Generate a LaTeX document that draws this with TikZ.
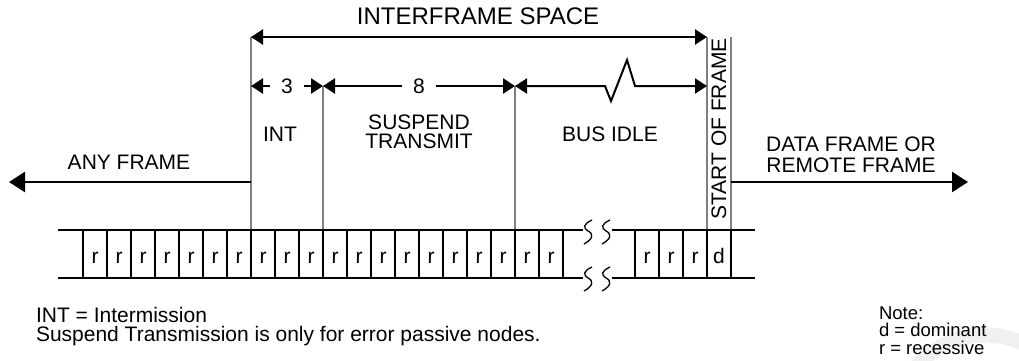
\documentclass[tikz,border=0pt]{standalone}
\usepackage{fontspec}
\setmainfont{Liberation Sans}
\usetikzlibrary{arrows.meta}

\begin{document}
\begin{tikzpicture}[x=1pt,y=-1pt,line width=2pt,
  >={Triangle[length=12pt,width=15pt]},
  lbl/.style={font=\fontsize{21}{19}\selectfont,inner sep=0pt,align=center},
  numlbl/.style={lbl,fill=white,inner xsep=11pt,inner ysep=2pt},
  note/.style={font=\fontsize{21}{19}\selectfont,inner sep=0pt,anchor=base west,align=left},
  dimline/.style={line width=2.5pt,<->},
  bigarrow/.style={line width=2.5pt,-{Triangle[length=16pt,width=20pt]}},
  guide/.style={draw=gray,line width=2pt},
  bitline/.style={line width=2pt},
  breakmark/.style={line width=1.3pt}]
\path[use as bounding box] (0,0) rectangle (1019,360);
% faint watermark ring
\begin{scope}
\clip (0,0) rectangle (1019,360);
\draw[gray!12,line width=15pt] (985,425) circle (90);
\end{scope}
% guide lines
\coordinate (intTop) at (251,37);
\coordinate (intBot) at (251,230);
\coordinate (susTop) at (323,86);
\coordinate (susBot) at (323,230);
\coordinate (idleTop) at (515,86);
\coordinate (idleBot) at (515,230);
\coordinate (sofTop) at (707,37);
\coordinate (sofBot) at (707,230);
\draw[guide] (intTop) -- (intBot);
\draw[guide] (susTop) -- (susBot);
\draw[guide] (idleTop) -- (idleBot);
\draw[guide] (sofTop) -- (sofBot);
\draw[guide] (731,37) -- (731,230);
% dimension arrows
\node[lbl,font=\fontsize{24}{24}\selectfont] (ifs) at (478,16) {INTERFRAME SPACE};
\draw[dimline] (intTop) -- (sofTop);
\draw[dimline] (251,86) -- node[numlbl] (three) {3} (susTop);
\draw[dimline] (susTop) -- node[numlbl] (eight) {8} (idleTop);
\draw[dimline,line width=2pt] (idleTop) -- (605,86) -- (611,101) -- (627,60) -- (635,86) -- (707,86);
% field labels
\node[lbl] (int) at (280,134.5) {INT};
\node[lbl] (susp) at (419,132) {SUSPEND\\TRANSMIT};
\node[lbl] (idle) at (610,134.5) {BUS IDLE};
\node[lbl,rotate=90] (sof) at (719,129) {START OF FRAME};
\node[lbl] (anyf) at (129,162) {ANY FRAME};
\node[lbl,font=\fontsize{21}{21}\selectfont] (dataf) at (851,155) {DATA FRAME OR\\REMOTE FRAME};
\draw[bigarrow] (251,182) -- (9,182);
\draw[bigarrow] (731,182) -- (968,182);
% bit cells
\draw[bitline] (58,230) -- (583,230) (612,230) -- (755,230);
\draw[bitline] (58,278) -- (583,278) (612,278) -- (755,278);
\foreach \x in {83,107,...,563} \draw[bitline] (\x,230) -- (\x,278);
\foreach \x in {635,659,683,707,731} \draw[bitline] (\x,230) -- (\x,278);
\foreach \x [count=\i] in {95,119,...,551} \node[lbl,anchor=base] (r\i) at (\x,263) {r};
\foreach \x [count=\i] in {647,671,695} \node[lbl,anchor=base] (rr\i) at (\x,263) {r};
\node[lbl,anchor=base] (dom) at (719,263) {d};
% break marks
\foreach \sx in {588,606}
  \foreach \sy in {220,267}
    \draw[breakmark] (\sx+4,\sy) .. controls (\sx-5,\sy+4) and (\sx-5,\sy+8) .. (\sx,\sy+11)
      .. controls (\sx+6,\sy+14) and (\sx+5,\sy+19) .. (\sx-4,\sy+24);
% notes
\node[note] (intnote) at (35,341) {INT = Intermission\\Suspend Transmission is only for error passive nodes.};
\node[note,font=\fontsize{18.5}{17.5}\selectfont] (legend) at (878,354) {Note:\\d = dominant\\r = recessive};
\end{tikzpicture}
\end{document}
